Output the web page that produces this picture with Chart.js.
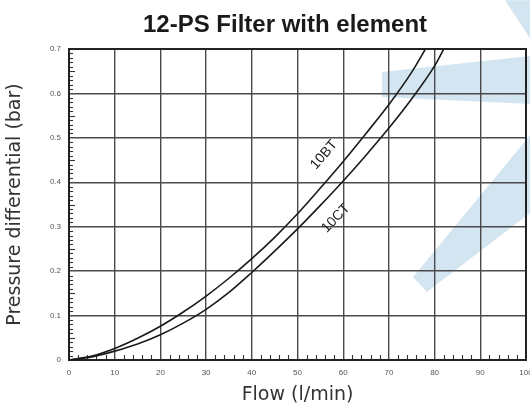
<!DOCTYPE html>
<html><head><meta charset="utf-8">
<script src="https://cdn.jsdelivr.net/npm/chart.js@4.4.1/dist/chart.umd.min.js"></script>
<style>html,body{margin:0;padding:0;background:#fff;}#wrap{width:530px;height:409px;position:relative;}</style>
</head><body><div id="wrap"><canvas id="c"></canvas></div>
<script>
const titleText = '12-PS Filter with element';
const xTitle = 'Flow (l/min)';
const yTitle = 'Pressure differential (bar)';
const xTicks = [0,10,20,30,40,50,60,70,80,90,100];
const yTicks = [0,0.1,0.2,0.3,0.4,0.5,0.6,0.7];
const seriesNames = ['10BT','10CT'];
const flowBT = [0,5,10,15,20,25,30,35,40,45,50,55,60,65,70,75,78];
const dpBT   = [0,0.009,0.026,0.049,0.076,0.108,0.144,0.184,0.228,0.276,0.329,0.387,0.447,0.510,0.575,0.648,0.700];
const flowCT = [0,5,10,15,20,25,30,35,40,45,50,55,60,65,70,75,80,82];
const dpCT   = [0,0.007,0.020,0.036,0.057,0.083,0.114,0.152,0.197,0.245,0.295,0.348,0.403,0.461,0.522,0.588,0.662,0.700];
// curve label anchors (data units) and rotation
const labelAnchors = [{x:55.8, y:0.462, angle:-49}, {x:58.4, y:0.319, angle:-46}];
// faint background watermark shapes (data units)
const watermark = [
  [[68.5,0.648],[100.9,0.684],[100.9,0.576],[68.5,0.592]],
  [[75.3,0.187],[78.3,0.153],[100.9,0.331],[100.9,0.506]],
  [[95.4,0.81],[100.9,0.81],[100.9,0.724]]
];

const toPts = (xs, ys) => xs.map((x,i)=>({x:x, y:ys[i]}));

const decor = {
  id:'decor',
  beforeDraw(chart){
    const {ctx, scales:{x,y}} = chart;
    ctx.save();
    ctx.fillStyle = 'rgba(200,222,237,0.8)';
    watermark.forEach(poly=>{
      ctx.beginPath();
      poly.forEach((p,i)=>{
        const px = x.getPixelForValue(p[0]), py = y.getPixelForValue(p[1]);
        if(i===0) ctx.moveTo(px,py); else ctx.lineTo(px,py);
      });
      ctx.closePath(); ctx.fill();
    });
    ctx.restore();
  },
  beforeDatasetsDraw(chart){
    const {ctx, chartArea:a, scales:{x,y}} = chart;
    ctx.save();
    ctx.strokeStyle = '#333'; ctx.lineWidth = 1.1;
    for(let k=1;k<70;k++){
      if(k%10===0) continue;
      const py = Math.round(y.getPixelForValue(k/100))+0.5;
      const len = (k%5===0)?6:4;
      ctx.beginPath(); ctx.moveTo(a.left, py); ctx.lineTo(a.left+len, py); ctx.stroke();
    }
    for(let k=2;k<100;k+=2){
      if(k%10===0) continue;
      const px = Math.round(x.getPixelForValue(k))+0.5;
      ctx.beginPath(); ctx.moveTo(px, a.bottom); ctx.lineTo(px, a.bottom-5); ctx.stroke();
    }
    ctx.strokeStyle = '#222'; ctx.lineWidth = 2;
    ctx.strokeRect(a.left, a.top, a.right-a.left, a.bottom-a.top);
    ctx.restore();
  },
  afterDatasetsDraw(chart){
    const {ctx, scales:{x,y}} = chart;
    ctx.save();
    ctx.fillStyle = '#222';
    ctx.font = '14px "Liberation Sans", Arial, sans-serif';
    ctx.textAlign = 'center'; ctx.textBaseline = 'middle';
    labelAnchors.forEach((l,i)=>{
      ctx.save();
      ctx.translate(x.getPixelForValue(l.x), y.getPixelForValue(l.y));
      ctx.rotate(l.angle*Math.PI/180);
      ctx.fillText(seriesNames[i], 0, 0);
      ctx.restore();
    });
    ctx.font = 'bold 24px "Liberation Sans", Arial, sans-serif';
    ctx.fillStyle = '#1a1a1a';
    ctx.fillText(titleText, 285, 25);
    ctx.restore();
  }
};

new Chart(document.getElementById('c'), {
  type:'line',
  data:{datasets:[
    {label:seriesNames[0], data:toPts(flowBT,dpBT), borderColor:'#1a1a1a', borderWidth:1.6, pointRadius:0, cubicInterpolationMode:'monotone', fill:false},
    {label:seriesNames[1], data:toPts(flowCT,dpCT), borderColor:'#1a1a1a', borderWidth:1.6, pointRadius:0, cubicInterpolationMode:'monotone', fill:false}
  ]},
  options:{
    responsive:true, maintainAspectRatio:false, animation:false,
    layout:{padding:{top:49, right:4, left:0, bottom:0}},
    plugins:{legend:{display:false}, tooltip:{enabled:false}, title:{display:false}},
    scales:{
      x:{type:'linear', min:0, max:100,
        afterBuildTicks:s=>{s.ticks = xTicks.map(v=>({value:v}));},
        afterFit:s=>{s.height = 49; s.paddingLeft = 0; s.paddingRight = 0;},
        ticks:{font:{family:'"Liberation Sans", Arial, sans-serif', size:8}, color:'#555', padding:8, maxRotation:0, autoSkip:false, callback:v=>String(v)},
        grid:{color:'#4a4a4a', lineWidth:1.4, drawTicks:false},
        border:{display:true, color:'#222', width:2},
        title:{display:true, text:xTitle, font:{family:'"DejaVu Sans", sans-serif', size:19}, color:'#333', padding:{top:0,bottom:3}}
      },
      y:{type:'linear', min:0, max:0.7,
        afterBuildTicks:s=>{s.ticks = yTicks.map(v=>({value:v}));},
        afterFit:s=>{s.width = 69; s.paddingTop = 0; s.paddingBottom = 0;},
        ticks:{font:{family:'"Liberation Sans", Arial, sans-serif', size:8}, color:'#555', padding:8, autoSkip:false, callback:v=> v===0 ? '0' : Number(v).toFixed(1)},
        grid:{color:'#4a4a4a', lineWidth:1.4, drawTicks:false},
        border:{display:true, color:'#222', width:2},
        title:{display:true, text:yTitle, font:{family:'"DejaVu Sans", sans-serif', size:19}, color:'#333', padding:{top:4,bottom:0}}
      }
    }
  },
  plugins:[decor]
});
</script></body></html>
